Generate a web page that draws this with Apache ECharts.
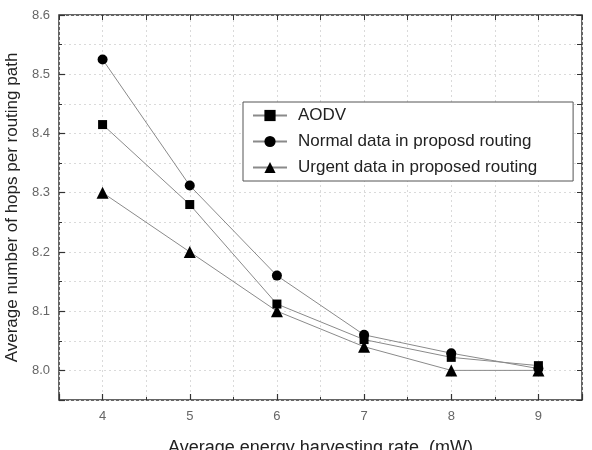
<!DOCTYPE html>
<html>
<head>
<meta charset="utf-8">
<script src="https://cdn.jsdelivr.net/npm/echarts@6/dist/echarts.min.js"></script>
<style>html,body{margin:0;padding:0;background:#fff;}</style>
</head>
<body>
<div id="chart" style="width:592px;height:450px;"></div>
<script>
var rates = [4, 5, 6, 7, 8, 9];
var aodv = [8.415, 8.28, 8.112, 8.052, 8.022, 8.008];
var normalData = [8.525, 8.312, 8.16, 8.06, 8.029, 8.003];
var urgentData = [8.30, 8.20, 8.10, 8.04, 8.00, 8.00];

var seriesNames = ['AODV', 'Normal data in proposd routing', 'Urgent data in proposed routing'];

var chart = echarts.init(document.getElementById('chart'));

function pairs(ys) {
    var res = [];
    for (var i = 0; i < rates.length; i++) {
        res.push([rates[i], ys[i]]);
    }
    return res;
}

function makeSeries(name, ys, symbol, size) {
    return {
        name: name,
        type: 'line',
        data: pairs(ys),
        symbol: symbol,
        symbolSize: size,
        showAllSymbol: true,
        lineStyle: { color: '#8a8a8a', width: 1 },
        itemStyle: { color: '#000' },
        z: 3
    };
}

var gridLine = { show: true, lineStyle: { color: '#dadada', type: [2, 3], width: 1 } };

var option = {
    animation: false,
    textStyle: { fontFamily: 'Liberation Sans, Arial, sans-serif' },
    grid: {
        left: 59, right: 10, top: 15, bottom: 50,
        containLabel: false, outerBoundsMode: 'none',
        show: true, borderColor: '#333', borderWidth: 1.5
    },
    legend: {
        data: seriesNames,
        orient: 'vertical',
        left: 243,
        top: 102,
        itemWidth: 34,
        itemHeight: 14,
        itemGap: 9,
        padding: [5, 36, 5, 9],
        borderColor: '#555',
        borderWidth: 1,
        backgroundColor: '#fff',
        textStyle: { fontSize: 17, color: '#222', padding: [0, 0, 0, 6] }
    },
    xAxis: [{
        type: 'value',
        min: 3.5,
        max: 9.5,
        interval: 0.5,
        name: 'Average energy harvesting rate  (mW)',
        nameLocation: 'middle',
        nameGap: 39,
        nameTextStyle: { fontSize: 18, color: '#222' },
        axisLine: { show: false },
        axisTick: { inside: true, length: 3, lineStyle: { color: '#333' } },
        axisLabel: {
            margin: 10, fontSize: 13, color: '#666',
            formatter: function (v) { return Math.abs(v - Math.round(v)) < 1e-6 ? String(Math.round(v)) : ''; }
        },
        splitLine: gridLine
    }, {
        type: 'value',
        min: 3.5,
        max: 9.5,
        position: 'bottom',
        axisLine: { show: false },
        axisTick: { inside: true, length: 6, lineStyle: { color: '#333', width: 1.2 } },
        axisLabel: { show: false },
        splitLine: { show: false }
    }, {
        type: 'value',
        min: 3.5,
        max: 9.5,
        interval: 0.5,
        position: 'top',
        axisLine: { show: false },
        axisTick: { inside: true, length: 5, lineStyle: { color: '#333' } },
        axisLabel: { show: false },
        splitLine: { show: false }
    }],
    yAxis: [{
        type: 'value',
        min: 7.95,
        max: 8.6,
        interval: 0.05,
        name: 'Average number of hops per routing path',
        nameLocation: 'middle',
        nameGap: 37,
        nameTextStyle: { fontSize: 17, color: '#222' },
        axisLine: { show: false },
        axisTick: { inside: true, length: 3, lineStyle: { color: '#333' } },
        axisLabel: {
            margin: 9, fontSize: 13, color: '#666',
            formatter: function (v) {
                var t = v * 10;
                return (Math.abs(t - Math.round(t)) < 1e-6 && v > 7.99) ? v.toFixed(1) : '';
            }
        },
        splitLine: gridLine
    }, {
        type: 'value',
        min: 7.95,
        max: 8.6,
        position: 'left',
        axisLine: { show: false },
        axisTick: { inside: true, length: 6, lineStyle: { color: '#333', width: 1.2 } },
        axisLabel: { show: false },
        splitLine: { show: false }
    }, {
        type: 'value',
        min: 7.95,
        max: 8.6,
        interval: 0.05,
        position: 'right',
        axisLine: { show: false },
        axisTick: { inside: true, length: 5, lineStyle: { color: '#333' } },
        axisLabel: { show: false },
        splitLine: { show: false }
    }],
    series: [
        makeSeries(seriesNames[0], aodv, 'rect', 9),
        makeSeries(seriesNames[1], normalData, 'circle', 10),
        makeSeries(seriesNames[2], urgentData, 'triangle', 12)
    ]
};

chart.setOption(option);
</script>
</body>
</html>
